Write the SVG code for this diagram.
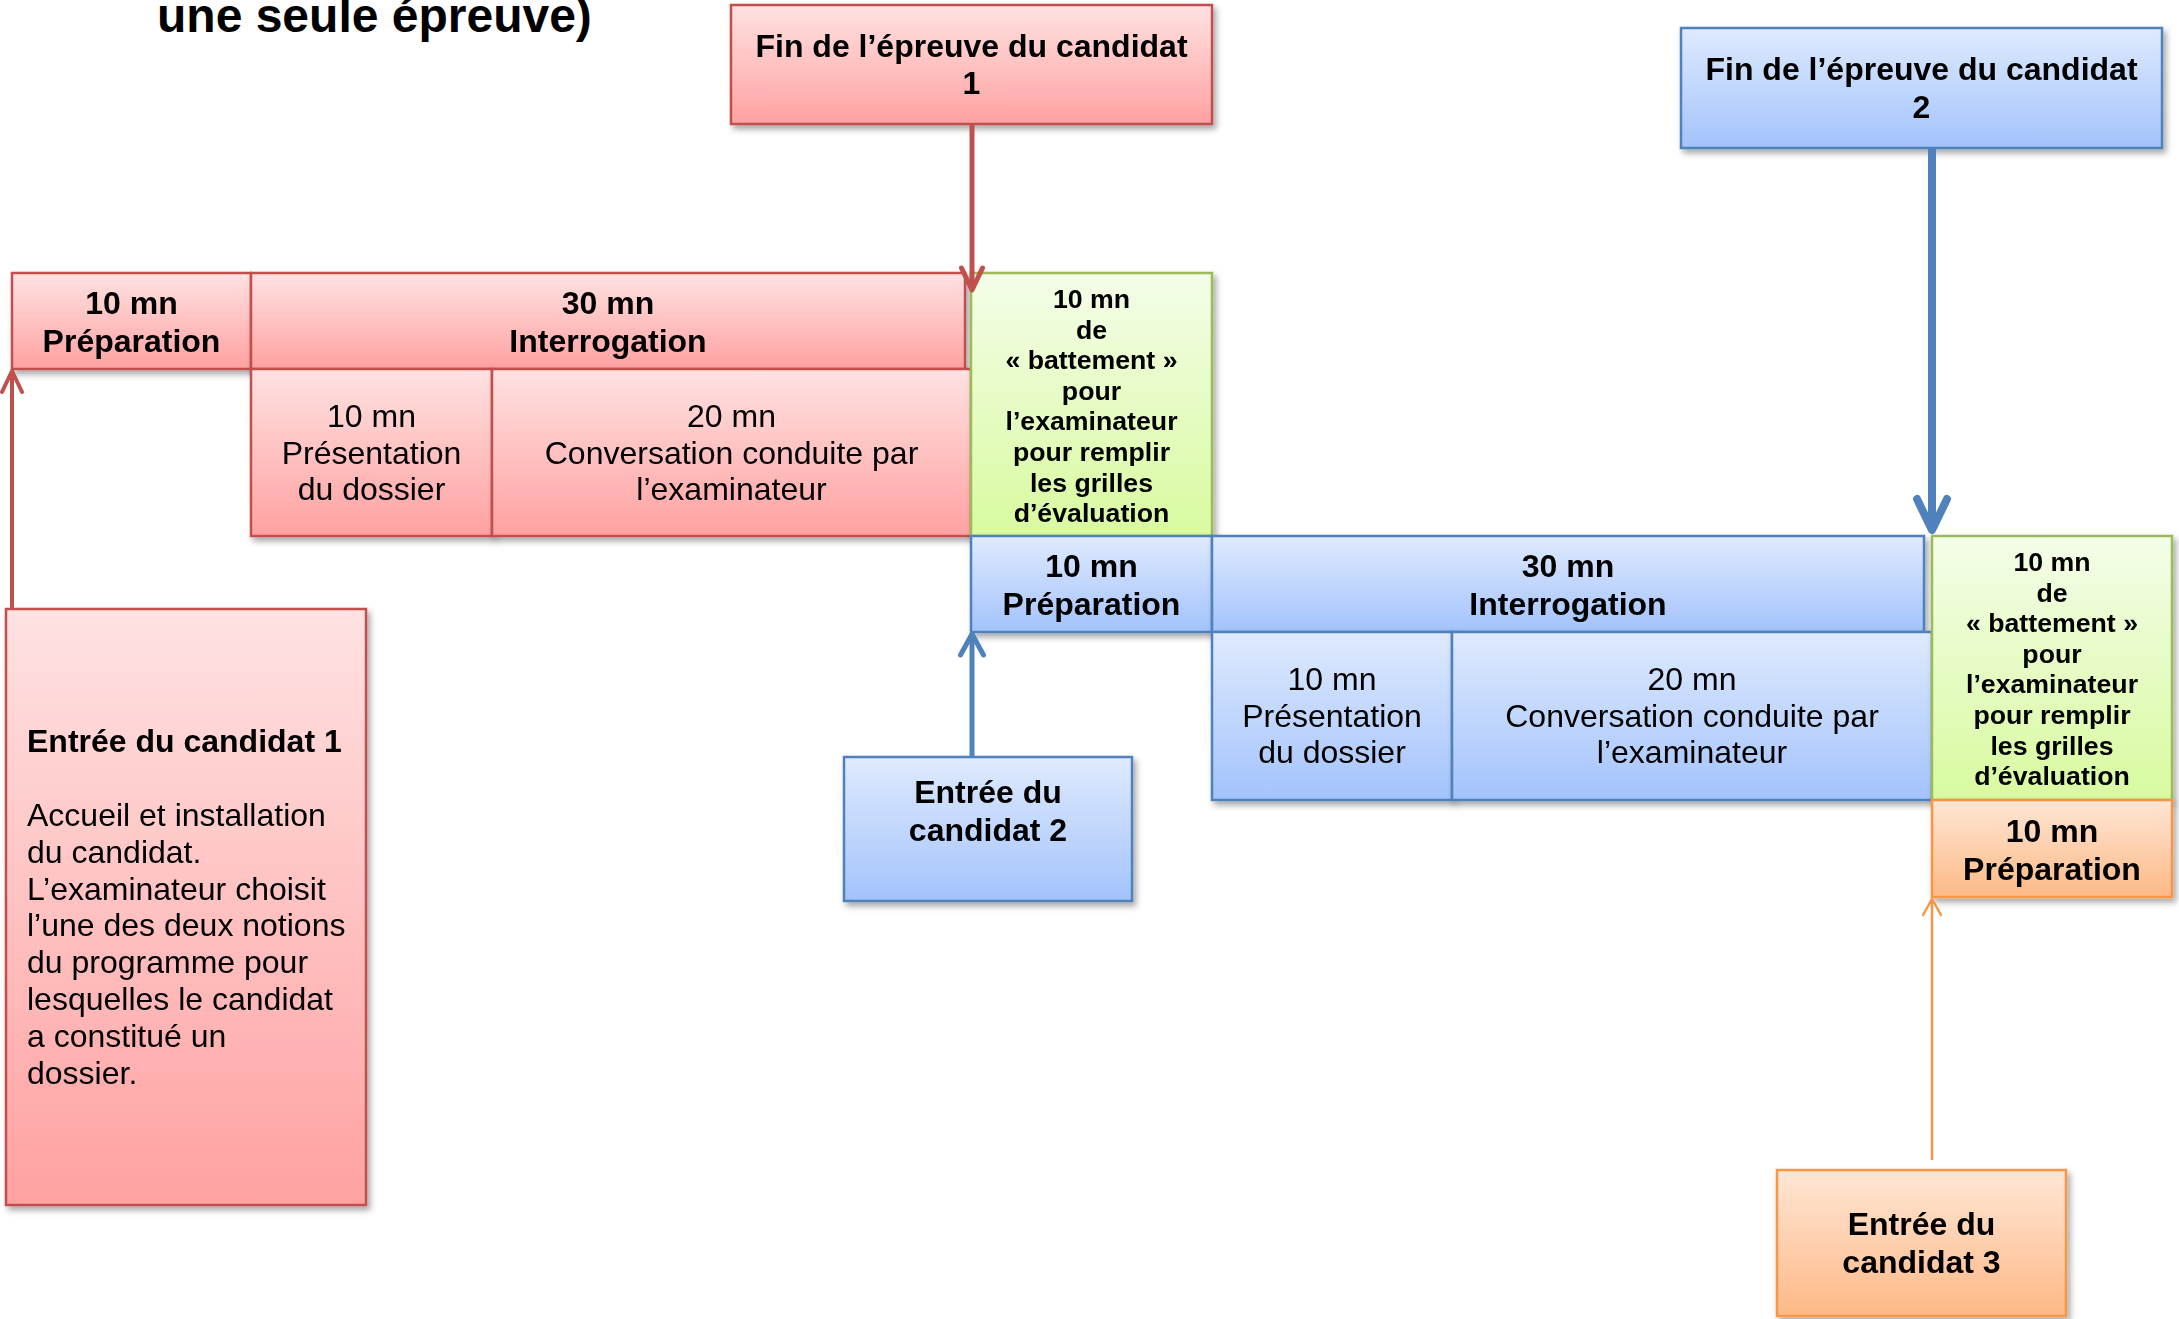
<svg xmlns="http://www.w3.org/2000/svg" width="2179" height="1319" viewBox="0 0 2179 1319">
<defs>
<linearGradient id="gRed" x1="0" y1="0" x2="0" y2="1"><stop offset="0" stop-color="#ffe2e2"/><stop offset="1" stop-color="#ffa1a1"/></linearGradient>
<linearGradient id="gBlue" x1="0" y1="0" x2="0" y2="1"><stop offset="0" stop-color="#dfeafd"/><stop offset="1" stop-color="#a3c3fc"/></linearGradient>
<linearGradient id="gGreen" x1="0" y1="0" x2="0" y2="1"><stop offset="0" stop-color="#f4fde9"/><stop offset="1" stop-color="#d8fa9f"/></linearGradient>
<linearGradient id="gOrange" x1="0" y1="0" x2="0" y2="1"><stop offset="0" stop-color="#fee6d4"/><stop offset="1" stop-color="#fdb987"/></linearGradient>
<filter id="sh" x="-10%" y="-10%" width="130%" height="130%"><feDropShadow dx="3" dy="4" stdDeviation="3" flood-color="#000" flood-opacity="0.35"/></filter>
<marker id="mRed1" markerUnits="userSpaceOnUse" orient="auto" refX="0" refY="0" markerWidth="40" markerHeight="40" viewBox="-30 -20 40 40" overflow="visible"><path d="M-22,-10.5 L0,0 L-22,10.5" fill="none" stroke="#c0504d" stroke-width="5" stroke-linecap="round" stroke-linejoin="round"/></marker>
<marker id="mRed2" markerUnits="userSpaceOnUse" orient="auto" refX="0" refY="0" markerWidth="40" markerHeight="40" viewBox="-30 -20 40 40" overflow="visible"><path d="M-21,-10 L0,0 L-21,10" fill="none" stroke="#c0504d" stroke-width="4" stroke-linecap="round" stroke-linejoin="round"/></marker>
<marker id="mBlue1" markerUnits="userSpaceOnUse" orient="auto" refX="0" refY="0" markerWidth="50" markerHeight="50" viewBox="-40 -25 50 50" overflow="visible"><path d="M-31,-15 L0,0 L-31,15" fill="none" stroke="#4f81bd" stroke-width="8" stroke-linecap="round" stroke-linejoin="round"/></marker>
<marker id="mBlue2" markerUnits="userSpaceOnUse" orient="auto" refX="0" refY="0" markerWidth="40" markerHeight="40" viewBox="-30 -20 40 40" overflow="visible"><path d="M-21,-11.5 L0,0 L-21,11.5" fill="none" stroke="#4f81bd" stroke-width="5" stroke-linecap="round" stroke-linejoin="round"/></marker>
<marker id="mOrange" markerUnits="userSpaceOnUse" orient="auto" refX="0" refY="0" markerWidth="40" markerHeight="40" viewBox="-30 -20 40 40" overflow="visible"><path d="M-16,-9 L0,0 L-16,9" fill="none" stroke="#f79646" stroke-width="2.5" stroke-linecap="round" stroke-linejoin="round"/></marker>
</defs>
<style>
text{font-family:"Liberation Sans",Arial,sans-serif;fill:#000;}
.b{font-weight:bold;font-size:32px;}
.r{font-size:32px;}
.s{font-weight:bold;font-size:26.7px;}
.c{text-anchor:middle;}
.red{fill:url(#gRed);stroke:#c0504d;stroke-width:2.5;}
.blue{fill:url(#gBlue);stroke:#4f81bd;stroke-width:2.5;}
.green{fill:url(#gGreen);stroke:#9bbb59;stroke-width:2.5;}
.orange{fill:url(#gOrange);stroke:#f79646;stroke-width:2.5;}
.box{filter:url(#sh);}
</style>
<rect width="2179" height="1319" fill="#fff"/>
<text x="157" y="32" style="font-family:'Liberation Sans',Arial,sans-serif;font-weight:bold;font-size:48px">une seule épreuve)</text>

<g id="fin1" class="box"><rect class="red" x="731" y="5" width="481" height="119"/>
<text class="b c" x="971.5" y="57">Fin de l’épreuve du candidat</text><text class="b c" x="971.5" y="94">1</text></g>
<g id="fin2" class="box"><rect class="blue" x="1681" y="28" width="481" height="120"/>
<text class="b c" x="1921.5" y="80">Fin de l’épreuve du candidat</text><text class="b c" x="1921.5" y="118">2</text></g>

<g id="red-prep" class="box"><rect class="red" x="12" y="273" width="239" height="96"/>
<text class="b c" x="131.5" y="314">10 mn</text><text class="b c" x="131.5" y="352">Préparation</text></g>
<g id="red-interro" class="box"><rect class="red" x="251" y="273" width="714" height="96"/>
<text class="b c" x="608" y="314">30 mn</text><text class="b c" x="608" y="352">Interrogation</text></g>
<g id="red-pres" class="box"><rect class="red" x="251" y="369" width="241" height="167"/>
<text class="r c" x="371.5" y="427">10 mn</text><text class="r c" x="371.5" y="464">Présentation</text><text class="r c" x="371.5" y="500">du dossier</text></g>
<g id="red-conv" class="box"><rect class="red" x="492" y="369" width="479" height="167"/>
<text class="r c" x="731.5" y="427">20 mn</text><text class="r c" x="731.5" y="464">Conversation conduite par</text><text class="r c" x="731.5" y="500">l’examinateur</text></g>
<g id="green1" class="box"><rect class="green" x="971" y="273" width="241" height="263"/>
<text class="s c" x="1091.5" y="308">10 mn</text><text class="s c" x="1091.5" y="338.6">de</text><text class="s c" x="1091.5" y="369.2">« battement »</text><text class="s c" x="1091.5" y="399.8">pour</text><text class="s c" x="1091.5" y="430.4">l’examinateur</text><text class="s c" x="1091.5" y="461">pour remplir</text><text class="s c" x="1091.5" y="491.6">les grilles</text><text class="s c" x="1091.5" y="522.2">d’évaluation</text></g>

<g id="blue-prep" class="box"><rect class="blue" x="971" y="536" width="241" height="96"/>
<text class="b c" x="1091.5" y="577">10 mn</text><text class="b c" x="1091.5" y="615">Préparation</text></g>
<g id="blue-interro" class="box"><rect class="blue" x="1212" y="536" width="712" height="96"/>
<text class="b c" x="1568" y="577">30 mn</text><text class="b c" x="1568" y="615">Interrogation</text></g>
<g id="blue-pres" class="box"><rect class="blue" x="1212" y="632" width="240" height="168"/>
<text class="r c" x="1332" y="690">10 mn</text><text class="r c" x="1332" y="727">Présentation</text><text class="r c" x="1332" y="763">du dossier</text></g>
<g id="blue-conv" class="box"><rect class="blue" x="1452" y="632" width="480" height="168"/>
<text class="r c" x="1692" y="690">20 mn</text><text class="r c" x="1692" y="727">Conversation conduite par</text><text class="r c" x="1692" y="763">l’examinateur</text></g>
<g id="green2" class="box"><rect class="green" x="1932" y="536" width="240" height="264"/>
<text class="s c" x="2052" y="571">10 mn</text><text class="s c" x="2052" y="601.6">de</text><text class="s c" x="2052" y="632.2">« battement »</text><text class="s c" x="2052" y="662.8">pour</text><text class="s c" x="2052" y="693.4">l’examinateur</text><text class="s c" x="2052" y="724">pour remplir</text><text class="s c" x="2052" y="754.6">les grilles</text><text class="s c" x="2052" y="785.2">d’évaluation</text></g>
<g id="orange-prep" class="box"><rect class="orange" x="1932" y="800" width="240" height="97"/>
<text class="b c" x="2052" y="842">10 mn</text><text class="b c" x="2052" y="880">Préparation</text></g>

<g id="entree1" class="box"><rect class="red" x="6" y="609" width="360" height="596"/>
<text class="b" x="27" y="752">Entrée du candidat 1</text>
<text class="r" x="27" y="826">Accueil et installation</text>
<text class="r" x="27" y="862.8">du candidat.</text>
<text class="r" x="27" y="899.6">L’examinateur choisit</text>
<text class="r" x="27" y="936.4">l’une des deux notions</text>
<text class="r" x="27" y="973.2">du programme pour</text>
<text class="r" x="27" y="1010">lesquelles le candidat</text>
<text class="r" x="27" y="1046.8">a constitué un</text>
<text class="r" x="27" y="1083.6">dossier.</text></g>
<g id="entree2" class="box"><rect class="blue" x="844" y="757" width="288" height="144"/>
<text class="b c" x="988" y="803">Entrée du</text><text class="b c" x="988" y="841">candidat 2</text></g>
<g id="entree3" class="box"><rect class="orange" x="1777" y="1170" width="289" height="146"/>
<text class="b c" x="1921.5" y="1235">Entrée du</text><text class="b c" x="1921.5" y="1273">candidat 3</text></g>

<g id="connectors" fill="none">
<line x1="972" y1="125" x2="972" y2="290" stroke="#c0504d" stroke-width="5" marker-end="url(#mRed1)"/>
<line x1="12" y1="609" x2="12" y2="371" stroke="#c0504d" stroke-width="4" marker-end="url(#mRed2)"/>
<line x1="1932" y1="149" x2="1932" y2="530" stroke="#4f81bd" stroke-width="8" marker-end="url(#mBlue1)"/>
<line x1="972" y1="757" x2="972" y2="634" stroke="#4f81bd" stroke-width="5" marker-end="url(#mBlue2)"/>
<line x1="1932" y1="1160" x2="1932" y2="899" stroke="#f79646" stroke-width="2.5" marker-end="url(#mOrange)"/>
</g>
</svg>
